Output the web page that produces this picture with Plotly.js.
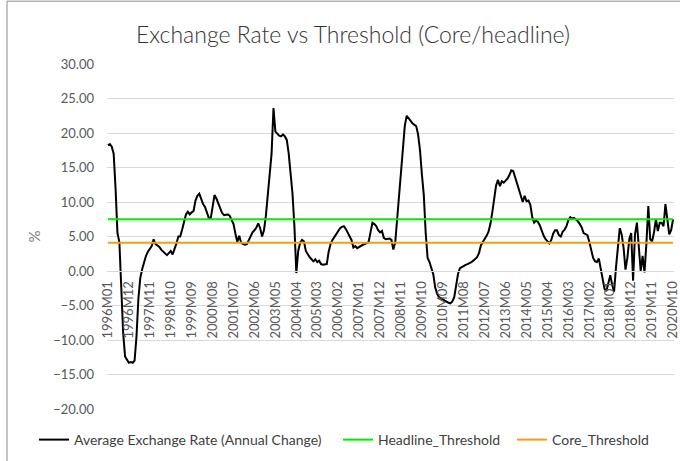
<!DOCTYPE html>
<html>
<head>
<meta charset="utf-8">
<script src="https://cdn.plot.ly/plotly-3.0.1.min.js"></script>
<style>html,body{margin:0;padding:0;background:#fff;}#chart{width:680px;height:461px;}</style>
</head>
<body>
<div id="chart"></div>
<script>
// Category labels: monthly periods 1996M01 .. 2020M10
const months = [];
for (let y = 1996; y <= 2020; y++) {
  for (let m = 1; m <= 12; m++) {
    if (y === 2020 && m > 10) break;
    months.push(y + 'M' + String(m).padStart(2, '0'));
  }
}

// Average exchange rate, annual % change
const rateValues = [
  18.2, 18.4, 18.0, 17.0, 12.0, 5.5, 4.2, -2.5, -9.0, -12.4,
  -12.8, -13.3, -13.2, -13.3, -13.0, -9.5, -4.0, -1.0, 0.3, 1.3,
  2.2, 2.8, 3.2, 3.6, 4.6, 3.9, 3.7, 3.5, 3.1, 2.8,
  2.5, 2.3, 2.6, 2.9, 2.4, 3.1, 4.0, 5.0, 5.0, 6.0,
  7.0, 8.2, 8.6, 8.2, 8.5, 8.7, 10.2, 10.9, 11.2, 10.4,
  9.7, 9.3, 8.3, 7.7, 7.6, 9.3, 11.0, 10.5, 9.7, 9.0,
  8.4, 8.1, 8.1, 8.2, 8.0, 7.4, 6.8, 5.4, 4.2, 5.1,
  4.1, 3.9, 3.8, 3.9, 4.5, 5.2, 5.6, 5.9, 6.3, 6.9,
  6.2, 5.0, 5.9, 8.0, 10.9, 13.8, 17.0, 23.6, 20.2, 19.9,
  19.6, 19.5, 19.8, 19.5, 19.0, 17.0, 14.0, 11.2, 6.5, -0.3,
  2.9, 4.1, 4.5, 4.3, 2.9, 2.4, 2.0, 1.7, 1.4, 1.7,
  1.3, 1.5, 1.0, 0.9, 0.9, 1.0, 2.8, 3.9, 4.5, 4.9,
  5.4, 5.8, 6.2, 6.4, 6.5, 6.1, 5.6, 5.0, 4.5, 3.4,
  3.6, 3.3, 3.5, 3.6, 3.8, 3.9, 4.0, 4.2, 5.6, 7.0,
  6.8, 6.5, 5.9, 5.6, 5.8, 4.8, 4.6, 4.6, 4.7, 4.5,
  3.1, 4.2, 7.5, 10.5, 13.3, 17.6, 21.0, 22.5, 22.2, 21.8,
  21.4, 21.2, 21.0, 19.8, 17.5, 14.0, 11.0, 5.5, 1.9, 1.3,
  0.3, -0.5, -2.4, -3.3, -3.8, -3.9, -4.1, -4.3, -4.5, -4.6,
  -4.7, -4.4, -3.8, -2.0, -0.4, 0.4, 0.6, 0.7, 0.9, 1.0,
  1.1, 1.3, 1.5, 1.7, 2.0, 2.6, 3.7, 4.2, 4.6, 5.1,
  5.7, 6.8, 8.5, 10.5, 12.4, 13.2, 12.3, 13.0, 12.8, 13.1,
  13.4, 13.9, 14.6, 14.5, 13.6, 12.8, 11.8, 10.8, 10.0, 10.9,
  10.1, 10.2, 9.6, 7.8, 7.0, 7.3, 7.1, 6.6, 5.8, 5.1,
  4.6, 4.3, 4.0, 4.5, 5.4, 5.9, 5.9, 5.2, 5.0, 5.7,
  6.0, 6.5, 7.4, 7.8, 7.6, 7.7, 7.5, 7.2, 6.8, 6.3,
  5.5, 5.3, 5.2, 4.2, 2.8, 1.9, 1.4, 1.3, 1.8, 0.3,
  -1.6, -2.6, -2.9, -1.6, -0.6, -2.0, -3.0, 0.5, 3.4, 6.2,
  5.3, 3.4, 0.2, 1.9, 4.6, 5.5, -1.4, 5.3, 7.0, 2.7,
  0.0, 2.2, -0.2, 4.0, 9.4, 4.6, 4.3, 5.6, 7.5, 5.8,
  7.0, 7.0, 6.5, 9.7, 7.2, 5.3, 5.9, 7.5
];

// Thresholds (constant levels)
const headlineLevel = 7.5;
const coreLevel = 4.1;
const headlineValues = months.map(() => headlineLevel);
const coreValues = months.map(() => coreLevel);

// Tick labels shown on the category axis (every 11th month)
const tickLabels = months.filter((_, i) => i % 11 === 0);

const FONT = 'Lato, "Open Sans", sans-serif';
const GREY = '#595959';

const traces = [
  {x: months, y: rateValues, type: 'scatter', mode: 'lines',
   name: 'Average Exchange Rate (Annual Change)', legend: 'legend',
   line: {color: '#000000', width: 2}},
  {x: months, y: headlineValues, type: 'scatter', mode: 'lines',
   name: 'Headline_Threshold', legend: 'legend2', line: {color: '#00ee00', width: 2}},
  {x: months, y: coreValues, type: 'scatter', mode: 'lines',
   name: 'Core_Threshold', legend: 'legend3', line: {color: '#ff9a10', width: 2}}
];

const plotL = 107, plotR = 674, plotT = 64, plotB = 410;
const pw = plotR - plotL, ph = plotB - plotT;
const px = v => (v - plotL) / pw;
const py = v => (plotB - v) / ph;

const legendBase = (xPix) => ({
  orientation: 'h', x: px(xPix), xanchor: 'left', y: py(440), yanchor: 'middle',
  font: {family: FONT, size: 14, color: '#404040'}, itemwidth: 30,
  bgcolor: 'rgba(0,0,0,0)', borderwidth: 0
});

const layout = {
  width: 680, height: 461,
  margin: {l: plotL, r: 680 - plotR, t: plotT, b: 461 - plotB, pad: 0},
  paper_bgcolor: '#ffffff', plot_bgcolor: '#ffffff',
  font: {family: FONT, color: GREY, size: 13},
  title: {text: 'Exchange Rate vs Threshold (Core/headline)',
          font: {family: FONT, size: 23, color: '#333333', weight: 300},
          x: 353 / 680, xanchor: 'center', y: 1 - 35 / 461, yanchor: 'middle'},
  showlegend: true,
  legend: legendBase(34),
  legend2: legendBase(338),
  legend3: legendBase(512),
  xaxis: {type: 'category', range: [-0.5, months.length - 0.5],
          tickmode: 'array', tickvals: tickLabels, ticktext: tickLabels,
          tickangle: -90, anchor: 'free', position: 0.4,
          showgrid: false, showline: true, linecolor: '#d9d9d9', linewidth: 1,
          ticks: '', ticklabelstandoff: 4,
          tickfont: {family: FONT, size: 13, color: GREY}, fixedrange: true},
  yaxis: {range: [-20, 30], tick0: 0, dtick: 5, tickformat: '.2f',
          showgrid: true, gridcolor: '#d9d9d9', gridwidth: 1,
          zeroline: false, showline: false, ticks: '', ticklabelstandoff: 12,
          tickfont: {family: FONT, size: 13, color: GREY},
          title: {text: '%', font: {family: FONT, size: 15, color: '#7f7f7f'}, standoff: 8},
          fixedrange: true},
  shapes: [{type: 'rect', xref: 'paper', yref: 'paper',
            x0: px(7), x1: px(700), y0: py(480), y1: py(1),
            line: {color: '#8c8c8c', width: 1}, fillcolor: 'rgba(0,0,0,0)', layer: 'below'}]
};

Plotly.newPlot('chart', traces, layout, {displayModeBar: false, staticPlot: true});
</script>
</body>
</html>
